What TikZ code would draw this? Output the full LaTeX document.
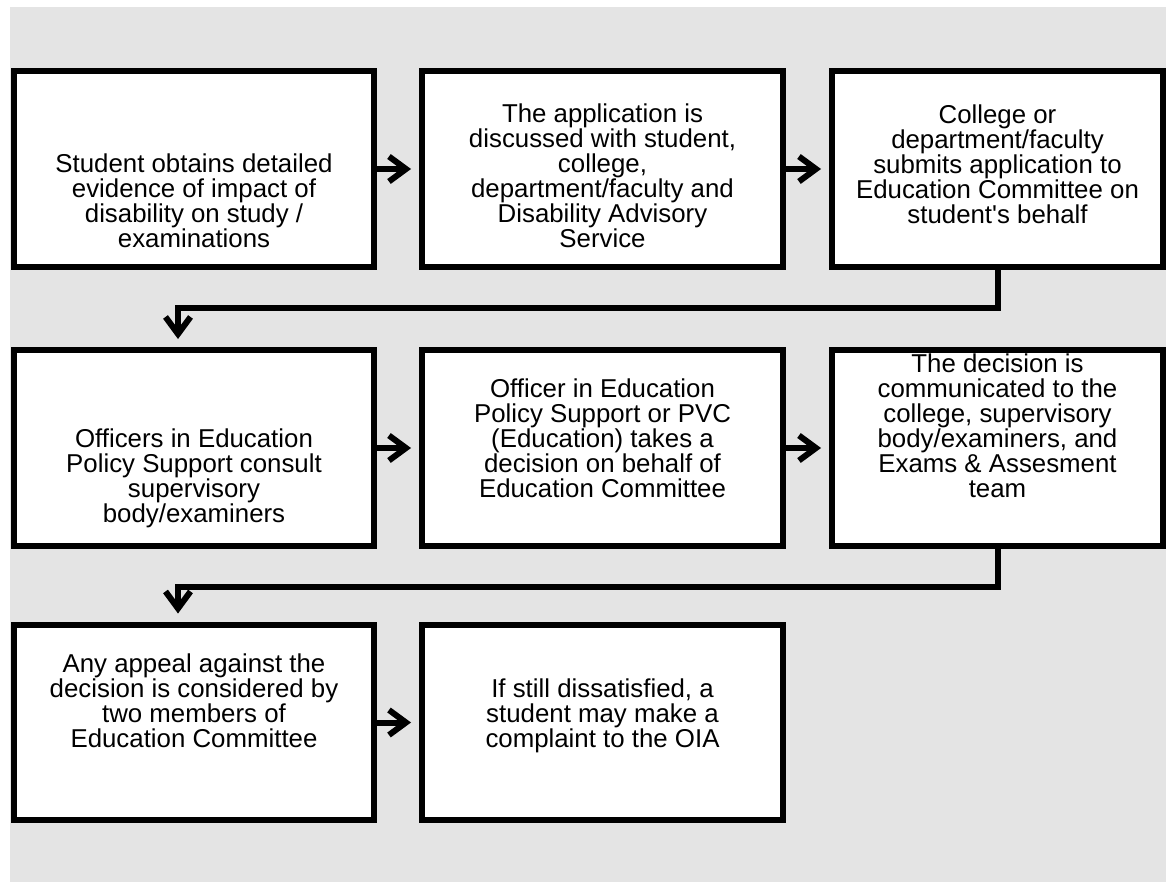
\documentclass[tikz,border=0pt]{standalone}
\usepackage{fontspec}
\setmainfont{Liberation Sans}[Ligatures=TeXOff]
\usetikzlibrary{arrows.meta,positioning}

\definecolor{panel}{HTML}{E4E4E4}
\tikzset{
  box/.style={draw, line width=0.12cm, fill=white, minimum width=7.22cm,
    minimum height=3.92cm, inner sep=0pt},
  txt/.style={align=center, inner sep=0pt, font=\fontsize{14.7}{14.2}\selectfont},
  conn/.style={line width=0.12cm, -{Straight Barb[length=0.34cm,width=0.5cm]},
    shorten >=0.16cm}
}

\begin{document}
\begin{tikzpicture}[x=0.02cm, y=-0.02cm]
  \useasboundingbox (0,0) rectangle (1166,882);
  \fill[panel] (10,7) rectangle (1166,882);

  % first row
  \node[box] (evidence) at (194,169) {};
  \node[box] (discuss) at (602.5,169) {};
  \node[box, minimum width=6.62cm] (submit) at (997.5,169) {};
  \node[txt] at ([yshift=-0.64cm]evidence.center)
    {Student obtains detailed\\evidence of impact of\\disability on study /\\examinations};
  \node[txt] at ([yshift=-0.14cm]discuss.center)
    {The application is\\discussed with student,\\college,\\department/faculty and\\Disability Advisory\\Service};
  \node[txt] at ([yshift=0.10cm]submit.center)
    {College or\\department/faculty\\submits application to\\Education Committee on\\student's behalf};

  % second row
  \node[box] (consult) at (194,448) {};
  \node[box] (decide) at (602.5,448) {};
  \node[box, minimum width=6.62cm] (inform) at (997.5,448) {};
  \node[txt] at ([yshift=-0.61cm]consult.center)
    {Officers in Education\\Policy Support consult\\supervisory\\body/examiners};
  \node[txt] at ([yshift=0.19cm]decide.center)
    {Officer in Education\\Policy Support or PVC\\(Education) takes a\\decision on behalf of\\Education Committee};
  \node[txt] at ([yshift=0.44cm]inform.center)
    {The decision is\\communicated to the\\college, supervisory\\body/examiners, and\\Exams \& Assesment\\team};

  % third row
  \node[box] (appeal) at (194,722.5) {};
  \node[box] (oia) at (602.5,722.5) {};
  \node[txt] at ([yshift=0.43cm]appeal.center)
    {Any appeal against the\\decision is considered by\\two members of\\Education Committee};
  \node[txt] at ([yshift=0.13cm]oia.center)
    {If still dissatisfied, a\\student may make a\\complaint to the OIA};

  \draw[conn] (evidence) -- (discuss);
  \draw[conn] (discuss) -- (submit);
  \draw[conn] (submit.south) -- ++(0,38) -| ([xshift=-0.32cm]consult.north);
  \draw[conn] (consult) -- (decide);
  \draw[conn] (decide) -- (inform);
  \draw[conn] (inform.south) -- ++(0,38) -| ([xshift=-0.32cm]appeal.north);
  \draw[conn] (appeal) -- (oia);
\end{tikzpicture}
\end{document}
